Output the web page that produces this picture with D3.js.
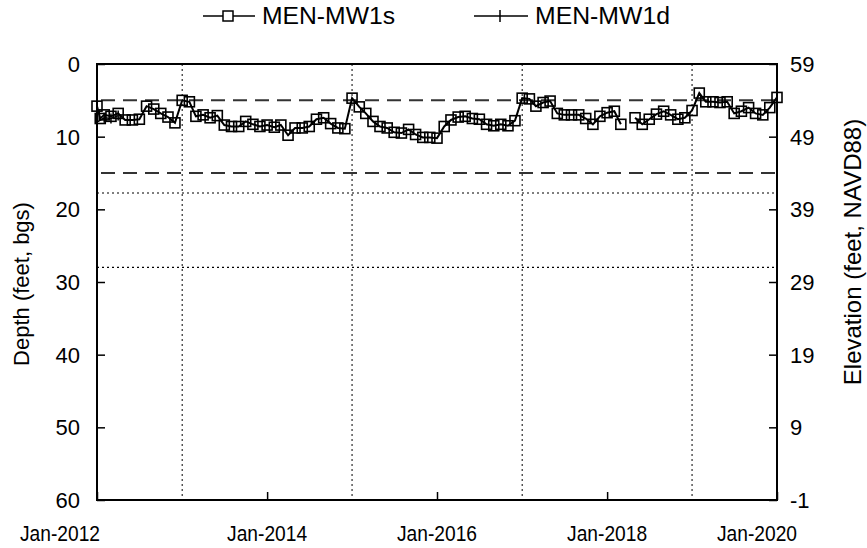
<!DOCTYPE html>
<html lang="en">
<head>
  <meta charset="UTF-8">
  <title>MEN-MW1 hydrograph</title>
  <script src="https://d3js.org/d3.v7.min.js"></script>
  <style>
    body { margin: 0; background: #fff; }
    text { font-family: "Liberation Sans", Arial, sans-serif; fill: #000; }
  </style>
</head>
<body>
  <svg id="chart" width="867" height="548"></svg>
  <script>
    // monthly samples, Jan-2012 .. Jan-2020 (null = no reading)
    const mw1sDates = [
      '2012-01-01', '2012-01-15', '2012-02-01', '2012-03-01', '2012-04-01', '2012-05-01', '2012-06-01',
      '2012-07-01', '2012-08-01', '2012-09-01', '2012-10-01', '2012-11-01', '2012-12-01',
      '2013-01-01', '2013-02-01', '2013-03-01', '2013-04-01', '2013-05-01', '2013-06-01',
      '2013-07-01', '2013-08-01', '2013-09-01', '2013-10-01', '2013-11-01', '2013-12-01',
      '2014-01-01', '2014-02-01', '2014-03-01', '2014-04-01', '2014-05-01', '2014-06-01',
      '2014-07-01', '2014-08-01', '2014-09-01', '2014-10-01', '2014-11-01', '2014-12-01',
      '2015-01-01', '2015-02-01', '2015-03-01', '2015-04-01', '2015-05-01', '2015-06-01',
      '2015-07-01', '2015-08-01', '2015-09-01', '2015-10-01', '2015-11-01', '2015-12-01',
      '2016-01-01', '2016-02-01', '2016-03-01', '2016-04-01', '2016-05-01', '2016-06-01',
      '2016-07-01', '2016-08-01', '2016-09-01', '2016-10-01', '2016-11-01', '2016-12-01',
      '2017-01-01', '2017-02-01', '2017-03-01', '2017-04-01', '2017-05-01', '2017-06-01',
      '2017-07-01', '2017-08-01', '2017-09-01', '2017-10-01', '2017-11-01', '2017-12-01',
      '2018-01-01', '2018-02-01', '2018-03-01', '2018-04-01', '2018-05-01', '2018-06-01',
      '2018-07-01', '2018-08-01', '2018-09-01', '2018-10-01', '2018-11-01', '2018-12-01',
      '2019-01-01', '2019-02-01', '2019-03-01', '2019-04-01', '2019-05-01', '2019-06-01',
      '2019-07-01', '2019-08-01', '2019-09-01', '2019-10-01', '2019-11-01', '2019-12-01',
      '2020-01-01'
    ];
    const mw1sDepth = [
      5.8, 7.5, 7.0, 7.2, 6.8, 7.7, 7.7, 7.6, 5.8, 6.2, 6.8, 7.3, 8.1,
      5.0, 5.2, 7.2, 7.0, 7.4, 7.1, 8.4, 8.6, 8.6, 7.9, 8.3, 8.6,
      8.4, 8.7, 8.4, 9.8, 8.8, 8.8, 8.6, 7.6, 7.4, 8.2, 8.8, 8.9,
      4.7, 5.9, 6.8, 7.9, 8.6, 8.8, 9.4, 9.5, 9.0, 9.7, 10.1, 10.1,
      10.2, 8.6, 7.7, 7.3, 7.2, 7.5, 7.6, 8.3, 8.5, 8.3, 8.5, 7.8,
      4.7, 4.8, 5.8, 5.3, 5.1, 6.8, 7.0, 7.0, 7.0, 7.5, 8.3, 7.2,
      6.7, 6.5, 8.3, null, 7.4, 8.3, 7.6, 6.9, 6.5, 7.0, 7.6, 7.4,
      6.4, 4.0, 5.2, 5.2, 5.3, 5.2, 6.8, 6.5, 6.0, 6.8, 7.0, 6.0,
      4.6
    ];
    // deep well: only a few readings, sitting under the shallow-well symbols
    const mw1dDates = ['2012-01-01', '2012-02-01', '2012-03-01', '2012-04-01'];
    const mw1dDepth = [8.0, 7.4, 7.5, 7.1];

    const groundElev = 59;
    const depthTicks = [0, 10, 20, 30, 40, 50, 60];
    const yearTicks = ['2012-01-01', '2014-01-01', '2016-01-01', '2018-01-01', '2020-01-01'];
    const gridYears = ['2013-01-01', '2015-01-01', '2017-01-01', '2019-01-01'];
    const dashedDepths = [5, 15];
    const dottedDepths = [17.75, 28];

    const parse = d3.timeParse('%Y-%m-%d');
    const svg = d3.select('#chart');
    const m = { left: 97, right: 777, top: 64, bottom: 500 };

    const x = d3.scaleTime()
      .domain([parse('2012-01-01'), parse('2020-01-01')])
      .range([m.left, m.right]);
    const y = d3.scaleLinear().domain([0, 60]).range([m.top, m.bottom]);

    const s = mw1sDates.map((d, i) => ({ date: parse(d), v: mw1sDepth[i] }));
    const dd = mw1dDates.map((d, i) => ({ date: parse(d), v: mw1dDepth[i] }));

    // odd-year dotted gridlines
    svg.append('g').selectAll('line')
      .data(gridYears.map(parse))
      .enter().append('line')
      .attr('x1', (d) => x(d)).attr('x2', (d) => x(d))
      .attr('y1', m.top).attr('y2', m.bottom)
      .attr('stroke', '#000').attr('stroke-width', 1)
      .attr('stroke-dasharray', '2,3');

    // reference depths
    svg.append('g').selectAll('line')
      .data(dashedDepths)
      .enter().append('line')
      .attr('x1', m.left + 4).attr('x2', m.right)
      .attr('y1', (d) => y(d)).attr('y2', (d) => y(d))
      .attr('stroke', '#333').attr('stroke-width', 2)
      .attr('stroke-dasharray', '14,8');
    svg.append('g').selectAll('line')
      .data(dottedDepths)
      .enter().append('line')
      .attr('x1', m.left).attr('x2', m.right)
      .attr('y1', (d) => y(d)).attr('y2', (d) => y(d))
      .attr('stroke', '#000').attr('stroke-width', 1.2)
      .attr('stroke-dasharray', '2,3');

    // axes (ticks pointing inward)
    const leftAxis = d3.axisRight(y).tickValues(depthTicks).tickSize(8).tickFormat('');
    svg.append('g').attr('transform', `translate(${m.left},0)`).call(leftAxis);
    const rightAxis = d3.axisLeft(y).tickValues(depthTicks).tickSize(8).tickFormat('');
    svg.append('g').attr('transform', `translate(${m.right},0)`).call(rightAxis);
    const bottomAxis = d3.axisTop(x).tickValues(yearTicks.map(parse)).tickSize(8).tickFormat('');
    svg.append('g').attr('transform', `translate(0,${m.bottom})`).call(bottomAxis);
    svg.selectAll('.domain').remove();
    svg.selectAll('.tick line').attr('stroke', '#000').attr('stroke-width', 1.5);

    // tick labels
    svg.append('g').selectAll('text')
      .data(depthTicks).enter().append('text')
      .attr('x', m.left - 17).attr('y', (d) => y(d)).attr('dy', '0.36em')
      .attr('text-anchor', 'end').attr('font-size', 22)
      .text((d) => d);
    svg.append('g').selectAll('text')
      .data(depthTicks).enter().append('text')
      .attr('x', m.right + 13).attr('y', (d) => y(d)).attr('dy', '0.36em')
      .attr('text-anchor', 'start').attr('font-size', 22)
      .text((d) => groundElev - d);
    const fmt = d3.timeFormat('%b-%Y');
    // the end labels sit pulled inward like the original
    const labelShift = [-37, 0, 0, 0, -20];
    svg.append('g').selectAll('text')
      .data(yearTicks.map(parse)).enter().append('text')
      .attr('x', (d, i) => x(d) + labelShift[i]).attr('y', m.bottom + 41)
      .attr('text-anchor', 'middle').attr('font-size', 22)
      .attr('textLength', 80).attr('lengthAdjust', 'spacingAndGlyphs')
      .text((d) => fmt(d));

    // axis titles
    svg.append('text')
      .attr('transform', 'translate(29,284) rotate(-90)')
      .attr('text-anchor', 'middle').attr('font-size', 22)
      .text('Depth (feet, bgs)');
    svg.append('text')
      .attr('transform', 'translate(861,252) rotate(-90)')
      .attr('text-anchor', 'middle').attr('font-size', 24)
      .text('Elevation (feet, NAVD88)');

    // series
    const line = d3.line()
      .defined((d) => d.v !== null)
      .x((d) => x(d.date)).y((d) => y(d.v));

    svg.append('path').datum(dd)
      .attr('fill', 'none').attr('stroke', '#000').attr('stroke-width', 1.5)
      .attr('d', line);
    svg.append('g').selectAll('path')
      .data(dd).enter().append('path')
      .attr('d', (d) => `M${x(d.date)},${y(d.v) - 5}V${y(d.v) + 5}`)
      .attr('stroke', '#000').attr('stroke-width', 1.5);

    svg.append('path').datum(s)
      .attr('fill', 'none').attr('stroke', '#000').attr('stroke-width', 2)
      .attr('d', line);
    svg.append('g').selectAll('rect')
      .data(s.filter((d) => d.v !== null)).enter().append('rect')
      .attr('x', (d) => x(d.date) - 5).attr('y', (d) => y(d.v) - 5)
      .attr('width', 10).attr('height', 10)
      .attr('fill', 'none').attr('stroke', '#000').attr('stroke-width', 1.6);

    // frame
    svg.append('rect')
      .attr('x', m.left).attr('y', m.top)
      .attr('width', m.right - m.left).attr('height', m.bottom - m.top)
      .attr('fill', 'none').attr('stroke', '#000').attr('stroke-width', 2);

    // legend
    const leg = svg.append('g').attr('transform', 'translate(0,16)');
    leg.append('line').attr('x1', 203).attr('x2', 255).attr('y1', 0).attr('y2', 0)
      .attr('stroke', '#000').attr('stroke-width', 1.5);
    leg.append('rect').attr('x', 223).attr('y', -5).attr('width', 10).attr('height', 10)
      .attr('fill', '#fff').attr('stroke', '#000').attr('stroke-width', 1.5);
    leg.append('text').attr('x', 262).attr('y', 8).attr('font-size', 23)
      .attr('textLength', 133).attr('lengthAdjust', 'spacingAndGlyphs').text('MEN-MW1s');
    leg.append('line').attr('x1', 474).attr('x2', 528).attr('y1', 0).attr('y2', 0)
      .attr('stroke', '#000').attr('stroke-width', 1.5);
    leg.append('line').attr('x1', 500).attr('x2', 500).attr('y1', -6).attr('y2', 6)
      .attr('stroke', '#000').attr('stroke-width', 1.5);
    leg.append('text').attr('x', 535).attr('y', 8).attr('font-size', 23)
      .attr('textLength', 135).attr('lengthAdjust', 'spacingAndGlyphs').text('MEN-MW1d');
  </script>
</body>
</html>
